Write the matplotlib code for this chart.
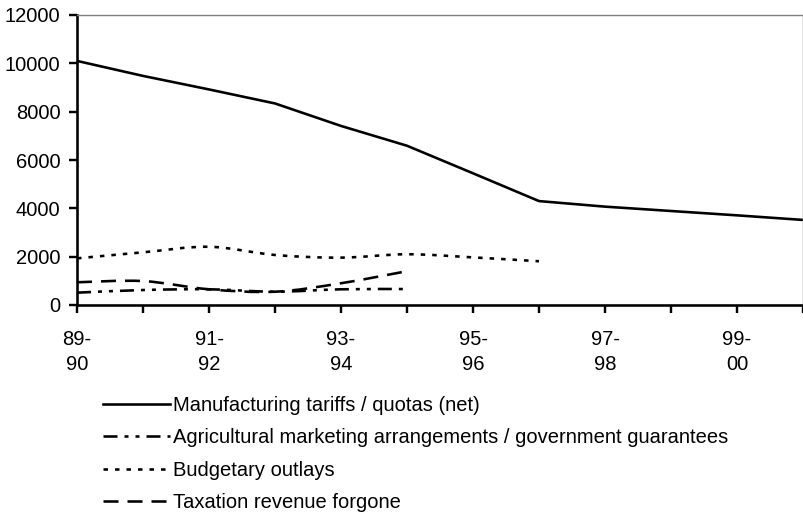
import matplotlib
matplotlib.use("Agg")
import matplotlib.pyplot as plt
import numpy as np
from matplotlib.path import Path
from matplotlib.patches import PathPatch
from matplotlib.lines import Line2D

plt.rcParams['font.family'] = ['Liberation Sans', 'DejaVu Sans']
plt.rcParams['lines.scale_dashes'] = False

years = ['89-\n90', '90-\n91', '91-\n92', '92-\n93', '93-\n94', '94-\n95',
         '95-\n96', '96-\n97', '97-\n98', '98-\n99', '99-\n00', '00-\n01']

manufacturing = [10100, 9480, 8920, 8340, 7410, 6590, 5450, 4300, 4070, 3890, 3710, 3520]
agricultural = [510, 620, 650, 550, 650, 660]
budgetary = [1930, 2180, 2410, 2070, 1960, 2100, 1970, 1810]
taxation = [940, 990, 650, 550, 900, 1400]

labels = ['Manufacturing tariffs / quotas (net)',
          'Agricultural marketing arrangements / government guarantees',
          'Budgetary outlays',
          'Taxation revenue forgone']

px = 0.72  # points per pixel at dpi 100
styles = [
    '-',
    (0, (14 * px, 7 * px, 4 * px, 7 * px, 4 * px, 7 * px)),
    (0, (4.5 * px, 7 * px)),
    (0, (15 * px, 9 * px)),
]
lw = 2.6 * px


def smooth_path(ys):
    # Catmull-Rom style cubic Bezier through the points (Excel smoothed line)
    xs = np.arange(len(ys), dtype=float)
    ys = np.asarray(ys, dtype=float)
    n = len(xs)
    verts = [(xs[0], ys[0])]
    codes = [Path.MOVETO]
    for i in range(n - 1):
        i0, i3 = max(i - 1, 0), min(i + 2, n - 1)
        c1 = (xs[i] + (xs[i + 1] - xs[i0]) / 6, ys[i] + (ys[i + 1] - ys[i0]) / 6)
        c2 = (xs[i + 1] - (xs[i3] - xs[i]) / 6, ys[i + 1] - (ys[i3] - ys[i]) / 6)
        verts += [c1, c2, (xs[i + 1], ys[i + 1])]
        codes += [Path.CURVE4] * 3
    return Path(verts, codes)


fig = plt.figure(figsize=(8.04, 5.14), dpi=100)
ax = fig.add_axes([77 / 804, 1 - 305 / 514, (803 - 77) / 804, 290 / 514])

ax.plot(np.arange(len(manufacturing)), manufacturing, color='black', lw=lw,
        solid_joinstyle='miter')
for series, ls in [(agricultural, styles[1]), (budgetary, styles[2]), (taxation, styles[3])]:
    patch = PathPatch(smooth_path(series), fill=False, edgecolor='black',
                      lw=lw, linestyle=ls, capstyle='butt')
    ax.add_patch(patch)

ax.set_xlim(0, len(years) - 1)
ax.set_ylim(0, 12000)
ax.set_yticks(np.arange(0, 12001, 2000))
ax.set_xticks(np.arange(len(years)))
ax.set_xticklabels([y if i % 2 == 0 else '' for i, y in enumerate(years)],
                   linespacing=1.4)

for s in ['left', 'bottom']:
    ax.spines[s].set_linewidth(2.6 * px)
    ax.spines[s].set_color('black')
for s in ['top', 'right']:
    ax.spines[s].set_linewidth(1.0)
    ax.spines[s].set_color('#808080')

ax.tick_params(axis='both', direction='out', length=6, width=2.4 * px,
               labelsize=14.5, colors='black')
ax.tick_params(axis='x', pad=12)
ax.tick_params(axis='y', pad=6)

handles = [Line2D([], [], color='black', lw=lw, linestyle=ls) for ls in styles]
fig.legend(handles, labels, loc='upper left', bbox_to_anchor=(103 / 804, 1 - 396 / 514),
           frameon=False, fontsize=14.5, handlelength=3.33, handletextpad=0.15,
           labelspacing=0.67, borderpad=0, borderaxespad=0)

fig.savefig('out.png', dpi=100)
